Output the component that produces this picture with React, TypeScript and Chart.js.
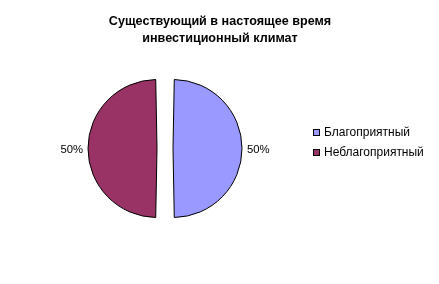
import React, { useEffect, useRef } from 'react';
import { Chart, registerables } from 'chart.js';

Chart.register(...registerables);

const titleLines = ['Существующий в настоящее время', 'инвестиционный климат'];
const categories = ['Благоприятный', 'Неблагоприятный'];
const values = [50, 50];
const colors = ['#9999FF', '#993366'];

const FONT = '"Liberation Sans", Arial, sans-serif';
const OFFSET = 32; // Chart.js moves arcs by offset/4 and grows semicircles by offset/4

const textPlugin = {
  id: 'textPlugin',
  afterDraw(chart: any) {
    const ctx = chart.ctx as CanvasRenderingContext2D;
    ctx.save();
    // title
    ctx.fillStyle = '#000';
    ctx.font = `bold 12.6px ${FONT}`;
    ctx.textAlign = 'center';
    ctx.textBaseline = 'middle';
    titleLines.forEach((t, i) => ctx.fillText(t, 220, 21.5 + i * 17));

    // percent labels
    const meta = chart.getDatasetMeta(0);
    const total = values.reduce((a, b) => a + b, 0);
    ctx.font = `11.3px ${FONT}`;
    meta.data.forEach((arc: any, i: number) => {
      const mid = (arc.startAngle + arc.endAngle) / 2;
      const off = (arc.options.offset || 0) / 4;
      const r = arc.outerRadius + off * 2 + 5;
      const x = arc.x + Math.cos(mid) * r;
      const y = arc.y + Math.sin(mid) * r + 1;
      ctx.textAlign = Math.cos(mid) >= 0 ? 'left' : 'right';
      ctx.fillText(Math.round((values[i] / total) * 100) + '%', x, y);
    });

    // legend
    ctx.font = `12px ${FONT}`;
    categories.forEach((c, i) => {
      const y = 132.5 + i * 20;
      ctx.fillStyle = colors[i];
      ctx.fillRect(313, y - 3.5, 7, 7);
      ctx.strokeStyle = '#000';
      ctx.lineWidth = 1;
      ctx.strokeRect(313.5, y - 3, 6, 6);
      ctx.fillStyle = '#000';
      ctx.textAlign = 'left';
      ctx.fillText(c, 324, y);
    });
    ctx.restore();
  },
};

export default function App() {
  const ref = useRef<HTMLCanvasElement>(null);
  useEffect(() => {
    const chart = new Chart(ref.current!, {
      type: 'pie',
      data: {
        labels: categories,
        datasets: [
          {
            data: values,
            backgroundColor: colors,
            borderColor: '#000',
            borderWidth: 1,
            offset: OFFSET,
          },
        ],
      },
      options: {
        responsive: false,
        animation: false,
        radius: 69 - OFFSET / 4,
        layout: { padding: { left: 0, right: 109, top: 13, bottom: 0 } },
        plugins: {
          legend: { display: false },
          title: { display: false },
          tooltip: { enabled: false },
        },
      } as any,
      plugins: [textPlugin],
    });
    return () => chart.destroy();
  }, []);
  return (
    <div style={{ position: 'fixed', left: 0, top: 0, width: 439, height: 284, background: '#fff' }}>
      <canvas ref={ref} width={439} height={284} style={{ display: 'block' }} />
    </div>
  );
}
